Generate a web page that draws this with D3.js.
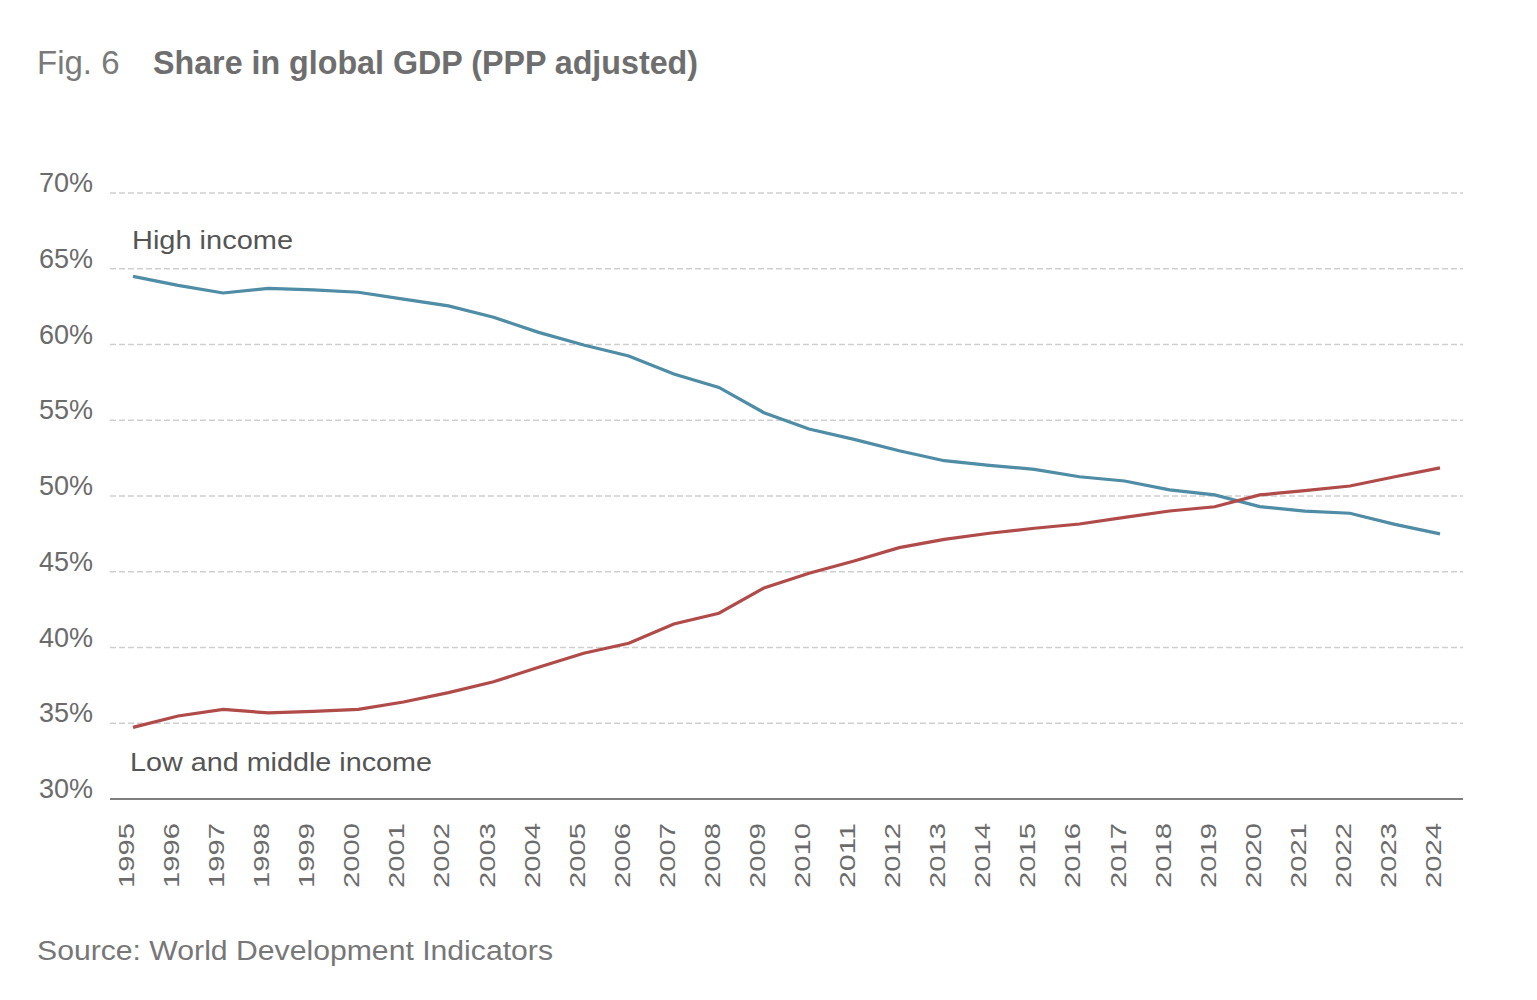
<!DOCTYPE html>
<html>
<head>
<meta charset="utf-8">
<script src="https://cdn.jsdelivr.net/npm/d3@7"></script>
<style>
  body { margin:0; background:#fff; }
  text { font-family: "Liberation Sans", Arial, sans-serif; }
</style>
</head>
<body>
<div id="chart"></div>
<script>
var years = d3.range(1995, 2025);
var highIncome = [64.5, 63.9, 63.4, 63.7, 63.6, 63.45, 63.0, 62.55, 61.8, 60.8,
                  59.97, 59.24, 58.05, 57.17, 55.5, 54.42, 53.74, 52.99, 52.33, 52.02,
                  51.76, 51.27, 50.99, 50.4, 50.07, 49.3, 49.0, 48.86, 48.13, 47.5];
var lowMiddle = [34.73, 35.48, 35.92, 35.68, 35.79, 35.92, 36.4, 37.02, 37.74, 38.69,
                 39.62, 40.28, 41.55, 42.26, 43.93, 44.9, 45.71, 46.59, 47.14, 47.54,
                 47.87, 48.15, 48.59, 49.01, 49.29, 50.07, 50.35, 50.66, 51.27, 51.86];
var yTicks = [30, 35, 40, 45, 50, 55, 60, 65, 70];

var width = 1537, height = 1000;
var svg = d3.select("#chart").append("svg").attr("width", width).attr("height", height);

var x = d3.scaleLinear().domain([1995, 2024]).range([133, 1440]);
var y = d3.scaleLinear().domain([30, 70]).range([799, 193]);
var textCol = "#6b6b6b";

// title
svg.append("text").attr("x", 37).attr("y", 74).attr("font-size", 33).attr("fill", "#7a7a7a")
  .text("Fig. 6");
svg.append("text").attr("x", 153).attr("y", 74).attr("font-size", 33).attr("font-weight", "bold")
  .attr("fill", "#6e6e6e").attr("textLength", 545).attr("lengthAdjust", "spacingAndGlyphs")
  .text("Share in global GDP (PPP adjusted)");

// grid lines
svg.append("g").selectAll("line").data(yTicks.filter(function(d){ return d > 30; })).enter().append("line")
  .attr("x1", 110).attr("x2", 1463)
  .attr("y1", function(d){ return y(d); }).attr("y2", function(d){ return y(d); })
  .attr("stroke", "#cfcfcf").attr("stroke-width", 1.5).attr("stroke-dasharray", "6,3");

// baseline
svg.append("line").attr("x1", 110).attr("x2", 1463).attr("y1", y(30)).attr("y2", y(30))
  .attr("stroke", "#555").attr("stroke-width", 1.5);

// y labels
svg.append("g").selectAll("text").data(yTicks).enter().append("text")
  .attr("x", 93).attr("y", function(d){ return y(d) - 1; })
  .attr("text-anchor", "end").attr("font-size", 27).attr("fill", textCol)
  .text(function(d){ return d + "%"; });

// x labels
svg.append("g").selectAll("text").data(years).enter().append("text")
  .attr("transform", function(d){ return "translate(" + (x(d) + 1) + ",888) rotate(-90)"; })
  .attr("font-size", 22).attr("fill", textCol)
  .attr("textLength", 65).attr("lengthAdjust", "spacingAndGlyphs")
  .text(function(d){ return d; });

var line = d3.line().x(function(d, i){ return x(years[i]); }).y(function(d){ return y(d); });

svg.append("path").datum(highIncome).attr("d", line).attr("fill", "none")
  .attr("stroke", "#4f8ca6").attr("stroke-width", 3.2);
svg.append("path").datum(lowMiddle).attr("d", line).attr("fill", "none")
  .attr("stroke", "#b04b49").attr("stroke-width", 3.2);

// series labels
svg.append("text").attr("x", 132).attr("y", 249).attr("font-size", 25).attr("fill", "#555")
  .attr("textLength", 161).attr("lengthAdjust", "spacingAndGlyphs")
  .text("High income");
svg.append("text").attr("x", 130).attr("y", 771).attr("font-size", 25).attr("fill", "#555")
  .attr("textLength", 302).attr("lengthAdjust", "spacingAndGlyphs")
  .text("Low and middle income");

// source
svg.append("text").attr("x", 37).attr("y", 960).attr("font-size", 27).attr("fill", "#777")
  .attr("textLength", 516).attr("lengthAdjust", "spacingAndGlyphs")
  .text("Source: World Development Indicators");
</script>
</body>
</html>
